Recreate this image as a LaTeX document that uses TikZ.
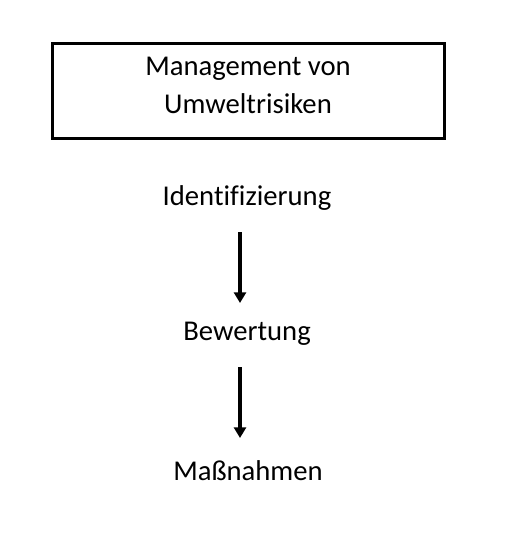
\documentclass[tikz,border=0pt]{standalone}
\usepackage{fontspec}
\setmainfont{Carlito}[Ligatures=CommonOff]
\usetikzlibrary{arrows.meta}
\begin{document}
\begin{tikzpicture}[x=0.75pt,y=-0.75pt,
  lbl/.style={font=\fontsize{21.5}{26}\selectfont, inner sep=0pt, anchor=center},
  conn/.style={line width=3pt, -{Triangle[width=9pt,length=8pt]}}]
\useasboundingbox (0,0) rectangle (514,547);
\draw[line width=2.25pt] (52,43) rectangle (444,138);
\node[lbl] (m1) at (248,69) {Management von};
\node[lbl] (m2) at (248,104) {Umweltrisiken};
\node[lbl] (id) at (247,198) {Identifizierung};
\node[lbl] (bw) at (247,334) {Bewertung};
\node[lbl] (ms) at (248,471) {Maßnahmen};
\coordinate (a1s) at (240,232);
\coordinate (a1e) at (240,303);
\coordinate (a2s) at (240,367);
\coordinate (a2e) at (240,438);
\draw[conn] (a1s) -- (a1e);
\draw[conn] (a2s) -- (a2e);
\end{tikzpicture}
\end{document}
